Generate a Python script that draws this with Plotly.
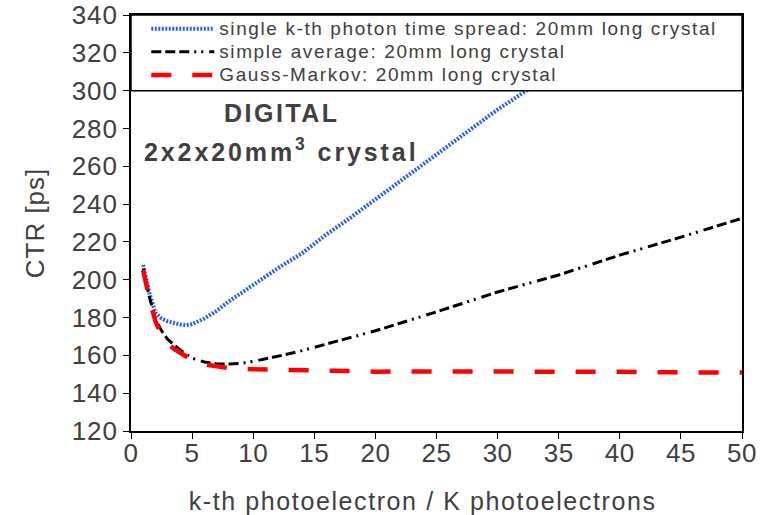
import plotly.graph_objects as go

# data
k_single = [1, 1.5, 2, 2.5, 3, 3.5, 4, 4.5, 5, 6, 7, 8, 9, 10, 12, 14, 16, 18, 20, 22, 25, 28, 30, 32, 34, 35]
ctr_single = [207.8, 193, 182.5, 179.5, 178, 177, 176.3, 176, 176.5, 179.5, 183.5, 188.5, 193, 197, 206, 214, 224, 233, 242.5, 252, 266, 280, 290, 298.5, 307, 311]

k_avg = [1, 1.5, 2, 2.5, 3, 3.5, 4, 5, 6, 7, 8, 9, 10, 12, 14, 16, 18, 20, 22, 25, 30, 35, 40, 45, 50]
ctr_avg = [206, 191, 179, 173, 168.5, 165.5, 163, 158.5, 156.5, 155.6, 155.4, 155.8, 156.8, 159.5, 162.5, 166, 169.5, 173, 177, 183, 193.5, 202.5, 213, 222.5, 232.5]

k_gm = [1, 1.5, 2, 2.5, 3, 3.5, 4, 5, 6, 7, 8, 10, 12, 15, 20, 25, 30, 35, 40, 45, 50]
ctr_gm = [205, 190, 178, 171, 166.5, 163.5, 161.5, 157.5, 155.3, 154, 153.3, 152.7, 152.4, 152.1, 151.4, 151.5, 151.6, 151.7, 151.3, 151.0, 151.0]

x_ticks = [0, 5, 10, 15, 20, 25, 30, 35, 40, 45, 50]
y_ticks = [120, 140, 160, 180, 200, 220, 240, 260, 280, 300, 320, 340]

names = ["single k-th photon time spread: 20mm long crystal",
         "simple average: 20mm long crystal",
         "Gauss-Markov: 20mm long crystal"]

FONT = "Liberation Sans, Arial, sans-serif"
TXT = "#404040"


def wide(s, size=None, ls=1.0):
    st = f"letter-spacing:{ls}px"
    if size:
        st = f"font-size:{size}px;" + st
    return f'<span style="{st}">{s}</span>'


fig = go.Figure()
fig.add_trace(go.Scatter(x=k_single, y=ctr_single, mode="lines", name=wide(names[0], 19, 1.6),
                         line=dict(color="#2a5ff5", width=4, dash="2px,1.5px")))
fig.add_trace(go.Scatter(x=k_avg, y=ctr_avg, mode="lines", name=wide(names[1], 19, 1.6),
                         line=dict(color="black", width=3,
                                   dash="10px,4px,10px,4px,10px,5px,2px,5px,2px,6px")))
fig.add_trace(go.Scatter(x=k_gm, y=ctr_gm, mode="lines", name=wide(names[2], 19, 1.6),
                         line=dict(color="#ff0000", width=4.5, dash="20px,21px")))

# legend band covering the upper part of the plot
fig.add_shape(type="rect", xref="paper", yref="y", x0=0, x1=1, y0=300, y1=340,
              fillcolor="white", line=dict(color="black", width=1.5), layer="above")

fig.add_annotation(x=0.247, y=0.764, xref="paper", yref="paper", showarrow=False,
                   xanchor="center", yanchor="middle",
                   text="<b>" + wide("DIGITAL", None, 2.5) + "</b>",
                   font=dict(family=FONT, size=25, color=TXT))
fig.add_annotation(x=0.247, y=0.676, xref="paper", yref="paper", showarrow=False,
                   xanchor="center", yanchor="middle",
                   text="<b>" + wide("2x2x20mm<sup>3</sup> crystal", None, 2.9) + "</b>",
                   font=dict(family=FONT, size=25, color=TXT))

fig.update_layout(
    width=771, height=515,
    margin=dict(l=131, r=29, t=15, b=84),
    paper_bgcolor="white", plot_bgcolor="white",
    font=dict(family=FONT, color=TXT),
    showlegend=True,
    legend=dict(x=0.025, y=1.007, xanchor="left", yanchor="top",
                bgcolor="rgba(0,0,0,0)", borderwidth=0,
                font=dict(family=FONT, size=15.5, color=TXT),
                tracegroupgap=0, itemwidth=63),
    xaxis=dict(range=[0, 50], tickvals=x_ticks,
               ticktext=[wide(str(v), None, 0.5) for v in x_ticks],
               ticks="outside", ticklen=6, automargin=False, ticklabelstandoff=-8,
               tickcolor="black", showline=True, linecolor="black", linewidth=1.5,
               mirror=True, showgrid=False, zeroline=False,
               tickfont=dict(family=FONT, size=26, color=TXT),
               title=dict(text=wide("k-th photoelectron / K photoelectrons", None, 1.6)
                          + "&nbsp;&nbsp;&nbsp;&nbsp;",
                          font=dict(family=FONT, size=25, color=TXT), standoff=28)),
    yaxis=dict(range=[120, 340], tickvals=y_ticks,
               ticktext=[wide(str(v), None, 1) for v in y_ticks],
               ticks="outside", ticklen=6, automargin=False,
               tickcolor="black", showline=True, linecolor="black", linewidth=1.5,
               mirror=True, showgrid=False, zeroline=False,
               tickfont=dict(family=FONT, size=26, color=TXT),
               title=dict(text=wide("CTR [ps]", None, 1), font=dict(family=FONT, size=26, color=TXT),
                          standoff=20)),
)

fig.write_html("out.html")
